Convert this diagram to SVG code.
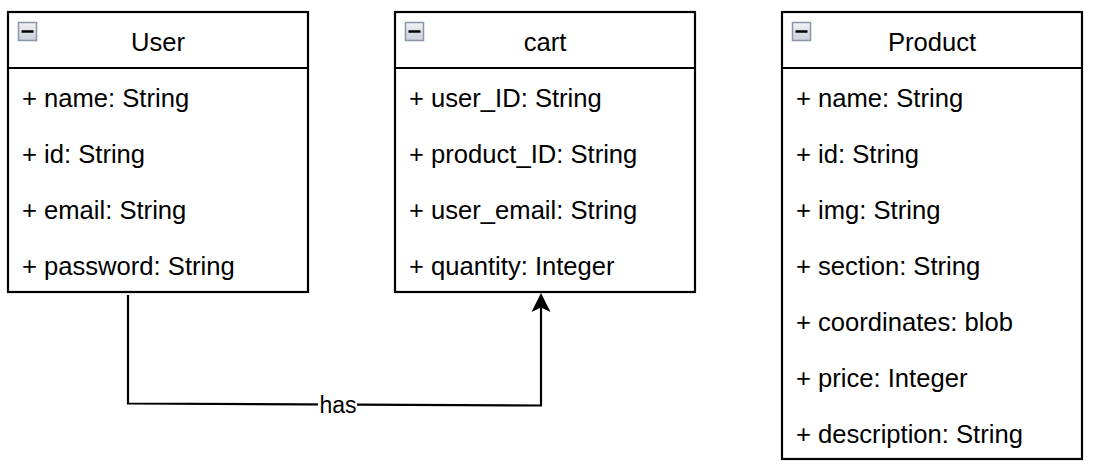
<svg xmlns="http://www.w3.org/2000/svg" width="1093" height="469" viewBox="0 0 1093 469">
<style>
.box{fill:#ffffff;stroke:#000000;stroke-width:2.2}
.sep{stroke:#000000;stroke-width:2.2}
.t{font-family:"Liberation Sans",Arial,sans-serif;font-size:25.6px;fill:#000000}
.h{text-anchor:middle}
.icon{fill:url(#ig);stroke:#8b95a8;stroke-width:1.5}
.minus{stroke:#000000;stroke-width:2.5}
.conn{fill:none;stroke:#000000;stroke-width:2.2}
.lbl{font-family:"Liberation Sans",Arial,sans-serif;font-size:23px;fill:#000000;text-anchor:middle}
</style>
<defs>
<linearGradient id="ig" x1="0" y1="0" x2="0" y2="1">
<stop offset="0" stop-color="#f2f3f6"/>
<stop offset="1" stop-color="#c9ced8"/>
</linearGradient>
<marker id="arr" markerWidth="20" markerHeight="20" viewBox="0 0 20 20" refX="12" refY="10" orient="auto" markerUnits="userSpaceOnUse">
<path d="M19,10 L0,0.5 L4.5,10 L0,19.5 Z" fill="#000000"/>
</marker>
</defs>
<rect width="1093" height="469" fill="#ffffff"/>

<g id="connectors">
<path class="conn" d="M128,295 L128,403.5 L541,405.5 L541,300" marker-end="url(#arr)"/>
<rect x="318" y="394" width="39" height="22" fill="#ffffff"/>
<text class="lbl" x="338" y="413">has</text>
</g>

<g id="User">
<rect class="box" x="8" y="12" width="300" height="280"/>
<line class="sep" x1="8" y1="68" x2="308" y2="68"/>
<rect class="icon" x="18.5" y="22.5" width="18" height="18"/>
<line class="minus" x1="21.5" y1="31.5" x2="33.5" y2="31.5"/>
<text class="t h" x="158" y="51">User</text>
<text class="t" x="22" y="107">+ name: String</text>
<text class="t" x="22" y="163">+ id: String</text>
<text class="t" x="22" y="219">+ email: String</text>
<text class="t" x="22" y="275">+ password: String</text>
</g>

<g id="cart">
<rect class="box" x="395" y="12" width="300" height="280"/>
<line class="sep" x1="395" y1="68" x2="695" y2="68"/>
<rect class="icon" x="405.5" y="22.5" width="18" height="18"/>
<line class="minus" x1="408.5" y1="31.5" x2="420.5" y2="31.5"/>
<text class="t h" x="545" y="51">cart</text>
<text class="t" x="409" y="107">+ user_ID: String</text>
<text class="t" x="409" y="163">+ product_ID: String</text>
<text class="t" x="409" y="219">+ user_email: String</text>
<text class="t" x="409" y="275">+ quantity: Integer</text>
</g>

<g id="Product">
<rect class="box" x="782" y="12" width="300" height="447"/>
<line class="sep" x1="782" y1="68" x2="1082" y2="68"/>
<rect class="icon" x="792.5" y="22.5" width="18" height="18"/>
<line class="minus" x1="795.5" y1="31.5" x2="807.5" y2="31.5"/>
<text class="t h" x="932" y="51">Product</text>
<text class="t" x="796" y="107">+ name: String</text>
<text class="t" x="796" y="163">+ id: String</text>
<text class="t" x="796" y="219">+ img: String</text>
<text class="t" x="796" y="275">+ section: String</text>
<text class="t" x="796" y="331">+ coordinates: blob</text>
<text class="t" x="796" y="387">+ price: Integer</text>
<text class="t" x="796" y="443">+ description: String</text>
</g>
</svg>
